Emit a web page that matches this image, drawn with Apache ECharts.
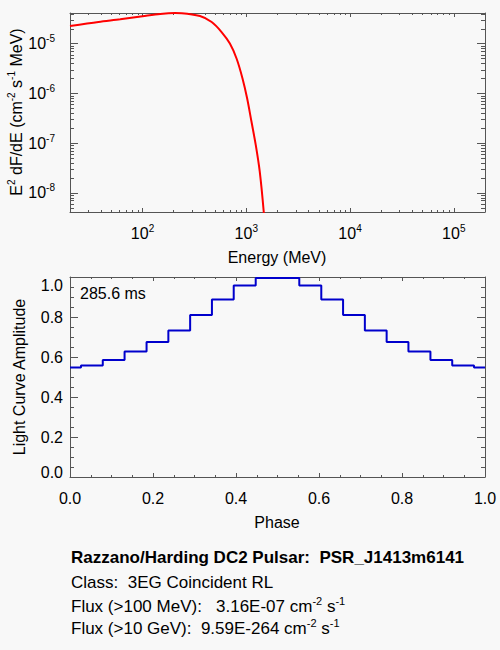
<!DOCTYPE html>
<html>
<head>
<meta charset="utf-8">
<title>DC2 Pulsar PSR_J1413m6141</title>
<script src="https://cdn.jsdelivr.net/npm/echarts@6/dist/echarts.min.js"></script>
<style>
    html, body { margin: 0; padding: 0; background: #f8f8f8; }
    #pulsar_chart { width: 500px; height: 650px; }
</style>
</head>
<body>
<div id="pulsar_chart"></div>
<script>

// Chart data
// ------------------------------

// Spectrum: energy (MeV) and E^2 dF/dE (cm^-2 s^-1 MeV)
var energyMeV = [20, 37.6, 61, 100, 148, 206, 239, 358, 464, 578, 695, 806, 920, 1019, 1122, 1234, 1348, 1472, 1520];
var spectrumFlux = [2.27e-5, 2.75e-5, 3.1e-5, 3.57e-5, 3.98e-5, 4.15e-5, 4.12e-5, 3.6e-5, 2.73e-5, 1.72e-5, 1.01e-5, 5.06e-6, 2.01e-6, 8.0e-7, 2.73e-7, 9.3e-8, 2.73e-8, 4.3e-9, 1.5e-9];

// Light curve: phase bins and amplitude
var phaseBins = [0.000, 0.053, 0.105, 0.158, 0.211, 0.263, 0.316, 0.368, 0.421, 0.474, 0.526, 0.579, 0.632, 0.684, 0.737, 0.789, 0.842, 0.895, 0.947, 1.000];
var lightCurve = [0.548, 0.558, 0.585, 0.627, 0.675, 0.733, 0.810, 0.888, 0.957, 0.995, 0.995, 0.957, 0.888, 0.810, 0.733, 0.675, 0.627, 0.585, 0.558, 0.548];

// Tick values
var energyTicks = [100, 1000, 10000, 100000];
var energyMinorTicks = [30, 40, 50, 60, 70, 80, 90,
    200, 300, 400, 500, 600, 700, 800, 900,
    2000, 3000, 4000, 5000, 6000, 7000, 8000, 9000,
    20000, 30000, 40000, 50000, 60000, 70000, 80000, 90000];
var fluxTicks = [1e-8, 1e-7, 1e-6, 1e-5];
var fluxMinorTicks = [5e-9, 6e-9, 7e-9, 8e-9, 9e-9,
    2e-8, 3e-8, 4e-8, 5e-8, 6e-8, 7e-8, 8e-8, 9e-8,
    2e-7, 3e-7, 4e-7, 5e-7, 6e-7, 7e-7, 8e-7, 9e-7,
    2e-6, 3e-6, 4e-6, 5e-6, 6e-6, 7e-6, 8e-6, 9e-6,
    2e-5, 3e-5, 4e-5];

// Text block
var periodLabel = '285.6 ms';
var pulsarTitle = 'Razzano/Harding DC2 Pulsar:  PSR_J1413m6141';
var pulsarClass = 'Class:  3EG Coincident RL';
var fluxLow = ['Flux (>100 MeV):   3.16E-07 cm', '-2', ' s', '-1'];
var fluxHigh = ['Flux (>10 GeV):  9.59E-264 cm', '-2', ' s', '-1'];


// Setup module
// ------------------------------

var PulsarChart = function() {

    var FONT = '"Liberation Sans", Arial, Helvetica, sans-serif';
    var AXIS_COLOR = '#555';

    var supRich = {
        b: { fontSize: 16, fontFamily: FONT, color: '#000' },
        s: { fontSize: 10, fontFamily: FONT, color: '#000', padding: [0, 0, 10, 0] }
    };

    // power-of-ten label, e.g. 10^-5
    var powerLabel = function(value) {
        var e = Math.round(Math.log(value) / Math.LN10);
        return '{b|10}{s|' + e + '}';
    };

    // Build the 4 overlapping axes of one side pair (major + minor ticks, both sides)
    var logAxes = function(gridIndex, dim, min, max, major, minor, majorLen, minorLen, label) {
        var sides = dim === 'x' ? ['bottom', 'top'] : ['left', 'right'];
        var axes = [];
        sides.forEach(function(side, i) {
            axes.push({
                type: 'log',
                logBase: 10,
                gridIndex: gridIndex,
                position: side,
                min: min,
                max: max,
                axisLine: { show: true, onZero: false, lineStyle: { color: AXIS_COLOR, width: 1 } },
                axisTick: { show: true, inside: true, length: majorLen, customValues: major, lineStyle: { color: AXIS_COLOR } },
                axisLabel: i === 0 ? label : { show: false },
                splitLine: { show: false },
                minorTick: { show: false }
            });
            axes.push({
                type: 'log',
                logBase: 10,
                gridIndex: gridIndex,
                position: side,
                min: min,
                max: max,
                axisLine: { show: false },
                axisTick: { show: true, inside: true, length: minorLen, customValues: minor, lineStyle: { color: AXIS_COLOR } },
                axisLabel: { show: false },
                splitLine: { show: false }
            });
        });
        return axes;
    };

    var linearAxes = function(gridIndex, dim, majorLen, minorLen, label) {
        var sides = dim === 'x' ? ['bottom', 'top'] : ['left', 'right'];
        return sides.map(function(side, i) {
            return {
                type: 'value',
                gridIndex: gridIndex,
                position: side,
                min: 0,
                max: 1,
                interval: 0.2,
                axisLine: { show: true, onZero: false, lineStyle: { color: AXIS_COLOR, width: 1 } },
                axisTick: { show: true, inside: true, length: majorLen, lineStyle: { color: AXIS_COLOR } },
                minorTick: { show: true, splitNumber: 4, length: minorLen, lineStyle: { color: AXIS_COLOR } },
                axisLabel: i === 0 ? label : { show: false },
                splitLine: { show: false }
            };
        });
    };

    var _pulsarChart = function() {
        if (typeof echarts == 'undefined') {
            console.warn('Warning - echarts.min.js is not loaded.');
            return;
        }

        var chart_element = document.getElementById('pulsar_chart');
        if (!chart_element) {
            return;
        }

        var chart = echarts.init(chart_element, null, { renderer: 'svg' });

        // X axes: spectrum (log) then light curve (linear)
        var xAxes = logAxes(0, 'x', 20, 2e5, energyTicks, energyMinorTicks, 4, 2, {
            show: true,
            customValues: energyTicks,
            margin: 11,
            formatter: powerLabel,
            rich: supRich
        }).concat(linearAxes(1, 'x', 4, 2, {
            show: true,
            margin: 13,
            color: '#000',
            fontSize: 16,
            fontFamily: FONT,
            formatter: function(v) { return v.toFixed(1); }
        }));

        // Y axes
        var yAxes = logAxes(0, 'y', 4.15e-9, 4.15e-5, fluxTicks, fluxMinorTicks, 8, 4, {
            show: true,
            customValues: fluxTicks,
            margin: 15,
            formatter: powerLabel,
            rich: supRich
        }).concat(linearAxes(1, 'y', 8, 4, {
            show: true,
            margin: 7,
            color: '#000',
            fontSize: 16,
            fontFamily: FONT,
            formatter: function(v) {
                if (v === 1) return '{top|1.0}';
                if (v === 0) return '{bot|0.0}';
                return v.toFixed(1);
            },
            rich: {
                top: { fontSize: 16, fontFamily: FONT, color: '#000', padding: [16, 0, 0, 0] },
                bot: { fontSize: 16, fontFamily: FONT, color: '#000', padding: [0, 0, 9, 0] }
            }
        }));

        var textStyle = function(text, x, y, size, weight, rich) {
            return {
                type: 'text',
                x: x,
                y: y,
                style: {
                    text: text,
                    fill: '#000',
                    font: (weight || 'normal') + ' ' + size + 'px ' + FONT,
                    align: 'left',
                    verticalAlign: 'middle',
                    rich: rich
                }
            };
        };

        var axisRich = {
            n: { fontSize: 16, fontFamily: FONT, color: '#000' },
            s: { fontSize: 10, fontFamily: FONT, color: '#000', padding: [0, 0, 10, 0] }
        };
        var fluxRich = {
            n: { fontSize: 17, fontFamily: FONT, color: '#000' },
            s: { fontSize: 11, fontFamily: FONT, color: '#000', padding: [0, 0, 10, 0] }
        };
        var fluxText = function(parts) {
            return '{n|' + parts[0] + '}{s|' + parts[1] + '}{n|' + parts[2] + '}{s|' + parts[3] + '}';
        };

        chart.setOption({
            backgroundColor: '#f8f8f8',
            animation: false,
            textStyle: { fontFamily: FONT, fontSize: 16, color: '#000' },

            grid: [
                { left: 70, right: 15, top: 13, height: 199 },
                { left: 70, right: 15, top: 277, height: 200 }
            ],

            xAxis: xAxes,
            yAxis: yAxes,

            graphic: [
                // axis titles
                {
                    type: 'text',
                    x: 16,
                    y: 112,
                    rotation: Math.PI / 2,
                    style: {
                        text: '{n|E}{s|2}{n| dF/dE (cm}{s|-2}{n| s}{s|-1}{n| MeV)}',
                        rich: axisRich,
                        align: 'center',
                        verticalAlign: 'middle'
                    }
                },
                {
                    type: 'text',
                    x: 277,
                    y: 257,
                    style: { text: 'Energy (MeV)', font: '16px ' + FONT, fill: '#000', align: 'center', verticalAlign: 'middle' }
                },
                {
                    type: 'text',
                    x: 19,
                    y: 377,
                    rotation: Math.PI / 2,
                    style: { text: 'Light Curve Amplitude', font: '16px ' + FONT, fill: '#000', align: 'center', verticalAlign: 'middle' }
                },
                {
                    type: 'text',
                    x: 277,
                    y: 522,
                    style: { text: 'Phase', font: '16px ' + FONT, fill: '#000', align: 'center', verticalAlign: 'middle' }
                },
                textStyle(periodLabel, 80, 293, 16),

                // info block
                textStyle(pulsarTitle, 71, 557, 17, 'bold'),
                textStyle(pulsarClass, 71, 582, 17),
                textStyle(fluxText(fluxLow), 71, 606, 17, 'normal', fluxRich),
                textStyle(fluxText(fluxHigh), 71, 628, 17, 'normal', fluxRich)
            ],

            series: [
                {
                    name: 'Spectrum',
                    type: 'line',
                    xAxisIndex: 0,
                    yAxisIndex: 0,
                    data: energyMeV.map(function(e, i) { return [e, spectrumFlux[i]]; }),
                    smooth: 0.3,
                    showSymbol: false,
                    clip: true,
                    lineStyle: { color: '#ff0000', width: 2 }
                },
                {
                    name: 'Light curve',
                    type: 'line',
                    xAxisIndex: 4,
                    yAxisIndex: 4,
                    data: phaseBins.map(function(p, i) { return [p, lightCurve[i]]; }),
                    step: 'middle',
                    showSymbol: false,
                    clip: true,
                    lineStyle: { color: '#0000cc', width: 2 }
                }
            ]
        });
    };

    return {
        init: function() {
            _pulsarChart();
        }
    }
}();


// Initialize module
// ------------------------------

document.addEventListener('DOMContentLoaded', function() {
    PulsarChart.init();
});
</script>
</body>
</html>
